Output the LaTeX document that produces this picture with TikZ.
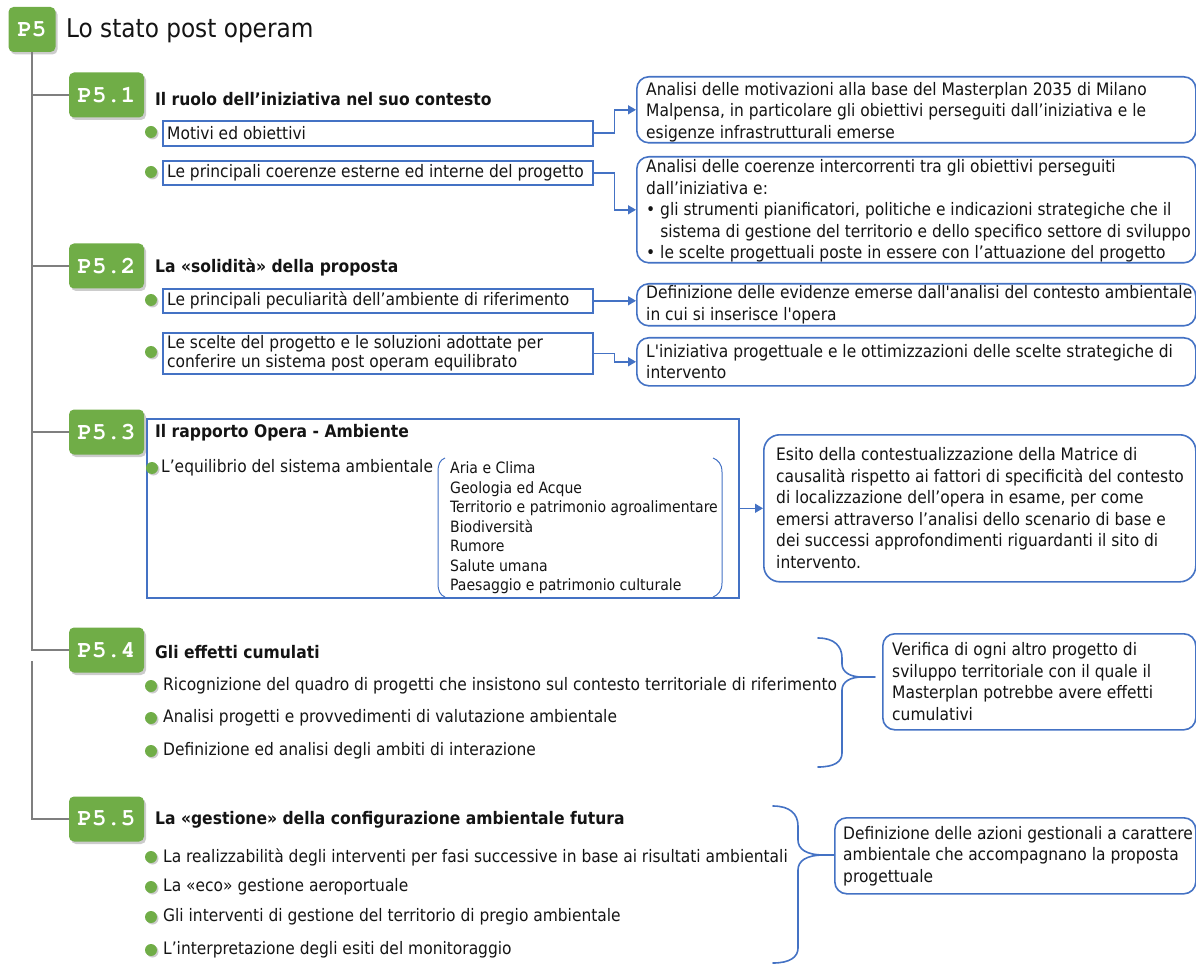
\documentclass[tikz,border=0pt]{standalone}
\usepackage{fontspec}
\setmainfont{DejaVu Sans Condensed}[BoldFont={DejaVu Sans Condensed Bold}, Ligatures=TeXOff]
\usetikzlibrary{shadows,arrows.meta,calc}

\definecolor{pgreen}{HTML}{70AD47}
\definecolor{pblue}{HTML}{4472C4}
\definecolor{tgray}{HTML}{7F7F7F}
\definecolor{ink}{HTML}{141414}

\newcommand\bodyfs{\fontsize{17.2}{21.5}\selectfont}
\newcommand\itemfs{\fontsize{17.2}{19.5}\selectfont}
\newcommand\listfs{\fontsize{15.6}{19.5}\selectfont}
\newcommand\headfs{\fontsize{17.3}{20}\selectfont\bfseries}
\newcommand\titlefs{\fontsize{25.8}{30}\selectfont}
\newcommand\badgefs{\fontencoding{T1}\fontfamily{pcr}\fontseries{b}\fontsize{24}{26}\selectfont}

\tikzset{
  badge/.style={fill=pgreen, rounded corners=5pt, text=white, font=\badgefs,
    minimum width=75pt, minimum height=45pt, inner sep=0pt,
    drop shadow={shadow xshift=2pt, shadow yshift=-2.5pt, fill=black!40}},
  tree/.style={draw=tgray, line width=1.3pt},
  dot/.style={circle, fill=pgreen, minimum size=12pt, inner sep=0pt,
    drop shadow={shadow xshift=1.5pt, shadow yshift=-1.5pt, fill=black!40}},
  head/.style={anchor=west, inner sep=0pt, font=\headfs, text=ink},
  itemtext/.style={anchor=west, inner sep=0pt, font=\itemfs, text=ink, align=left},
  itembox/.style={draw=pblue, line width=1.6pt, fill=white, anchor=north west,
    minimum width=430pt, inner sep=0pt},
  rbox/.style={draw=pblue, line width=1.6pt, fill=white, rounded corners=12pt,
    anchor=north west, inner sep=0pt},
  rtext/.style={anchor=west, inner sep=0pt, font=\bodyfs, text=ink, align=left},
  conn/.style={draw=pblue, line width=1.6pt, -{Triangle[length=8pt,width=9pt]}},
  brace/.style={draw=pblue, line width=1.6pt, line cap=round},
  paren/.style={draw=pblue, line width=1pt},
}

\begin{document}
\begin{tikzpicture}[x=1pt,y=-1pt]
\useasboundingbox (0,0) rectangle (1196,965);

% ---------- section P5.3 frame (drawn under its badge)
\node[draw=pblue, line width=1.6pt, anchor=north west, inner sep=0pt,
      minimum width=592pt, minimum height=179pt] (p53box) at (146,418) {};

% ---------- main title and section badges
\node[badge, minimum width=47pt] (p5) at (32,29.5) {P5};
\node[anchor=west, inner sep=0pt, font=\titlefs, text=ink] (title) at (66,31) {Lo stato post operam};

\node[badge] (p51) at (106.5,95) {P5.1};
\node[badge] (p52) at (106.5,266) {P5.2};
\node[badge] (p53) at (106.5,432) {P5.3};
\node[badge] (p54) at (106.5,650) {P5.4};
\node[badge] (p55) at (106.5,819) {P5.5};

% ---------- tree
\draw[tree] (p5.south) |- (p51.west);
\draw[tree] (p5.south) |- (p52.west);
\draw[tree] (p5.south) |- (p53.west);
\draw[tree] (p5.south) |- (p54.west);
\coordinate (t55) at (32,661);
\draw[tree] (t55) |- (p55.west);

% ---------- headings
\node[head] (h51) at (155,99) {Il ruolo dell’iniziativa nel suo contesto};
\node[head] (h52) at (155,267) {La «solidità» della proposta};
\node[head] (h53) at (155,433) {Il rapporto Opera - Ambiente};
\node[head] (h54) at (155,652) {Gli effetti cumulati};
\node[head] (h55) at (155,820) {La «gestione» della configurazione ambientale futura};

% ---------- P5.1 items
\node[itembox, minimum height=25pt] (i1) at (162,120) {};
\node[itemtext] (ti1) at ($(i1.west)+(5,0)$) {Motivi ed obiettivi};
\node[itembox, minimum height=24pt] (i2) at (162,160) {};
\node[itemtext] (ti2) at ($(i2.west)+(5,0)$) {Le principali coerenze esterne ed interne del progetto};
\node[dot] (d1) at (151,132) {};
\node[dot] (d2) at (151,172) {};

% ---------- P5.2 items
\node[itembox, minimum height=24pt] (i3) at (162,288) {};
\node[itemtext] (ti3) at ($(i3.west)+(5,0)$) {Le principali peculiarità dell’ambiente di riferimento};
\node[itembox, minimum height=41pt] (i4) at (162,332) {};
\node[itemtext] (ti4) at ($(i4.west)+(5,0)$) {Le scelte del progetto e le soluzioni adottate per\\conferire un sistema post operam equilibrato};
\node[dot] (d3) at (151,300) {};
\node[dot] (d4) at (151,352) {};

% ---------- P5.3 content
\node[dot] (d5) at (152,468) {};
\node[itemtext] (ti5) at (161,468) {L’equilibrio del sistema ambientale};
\draw[paren] (445,458) .. controls (440,460) and (438,464) .. (438,472) -- (438,583)
  .. controls (438,591) and (440,595) .. (445,597);
\draw[paren] (713,458) .. controls (718,460) and (722,464) .. (722,472) -- (722,583)
  .. controls (722,591) and (718,595) .. (713,597);
\node[anchor=west, inner sep=0pt, font=\listfs, text=ink, align=left] (list) at (450,528)
  {Aria e Clima\\Geologia ed Acque\\Territorio e patrimonio agroalimentare\\Biodiversità\\Rumore\\Salute umana\\Paesaggio e patrimonio culturale};

% ---------- P5.4 items
\node[dot] (d6) at (151,686) {};
\node[itemtext] (ti6) at (163,686) {Ricognizione del quadro di progetti che insistono sul contesto territoriale di riferimento};
\node[dot] (d7) at (151,718) {};
\node[itemtext] (ti7) at (163,718) {Analisi progetti e provvedimenti di valutazione ambientale};
\node[dot] (d8) at (151,751) {};
\node[itemtext] (ti8) at (163,751) {Definizione ed analisi degli ambiti di interazione};

% ---------- P5.5 items
\node[dot] (d9) at (151,857) {};
\node[itemtext] (ti9) at (163,857) {La realizzabilità degli interventi per fasi successive in base ai risultati ambientali};
\node[dot] (d10) at (151,887) {};
\node[itemtext] (ti10) at (163,887) {La «eco» gestione aeroportuale};
\node[dot] (d11) at (151,917) {};
\node[itemtext] (ti11) at (163,917) {Gli interventi di gestione del territorio di pregio ambientale};
\node[dot] (d12) at (151,950) {};
\node[itemtext] (ti12) at (163,950) {L’interpretazione degli esiti del monitoraggio};

% ---------- description boxes
\node[rbox, minimum width=559pt, minimum height=66pt] (r1) at (636,76) {};
\node[rtext] (tr1) at ($(r1.west)+(10,2)$) {Analisi delle motivazioni alla base del Masterplan 2035 di Milano\\Malpensa, in particolare gli obiettivi perseguiti dall’iniziativa e le\\esigenze infrastrutturali emerse};

\node[rbox, minimum width=559pt, minimum height=106pt] (r2) at (636,156) {};
\node[rtext] (tr2) at ($(r2.west)+(10,1)$) {Analisi delle coerenze intercorrenti tra gli obiettivi perseguiti\\dall’iniziativa e:\\• gli strumenti pianificatori, politiche e indicazioni strategiche che il\\\phantom{• }sistema di gestione del territorio e dello specifico settore di sviluppo\\• le scelte progettuali poste in essere con l’attuazione del progetto};

\node[rbox, minimum width=559pt, minimum height=42pt] (r3) at (636,283) {};
\node[rtext] (tr3) at ($(r3.west)+(10,0)$) {Definizione delle evidenze emerse dall'analisi del contesto ambientale\\in cui si inserisce l'opera};

\node[rbox, minimum width=559pt, minimum height=48pt] (r4) at (636,337) {};
\node[rtext] (tr4) at ($(r4.west)+(10,0)$) {L'iniziativa progettuale e le ottimizzazioni delle scelte strategiche di\\intervento};

\node[rbox, rounded corners=16pt, minimum width=432pt, minimum height=147pt] (r5) at (763,434) {};
\node[rtext] (tr5) at ($(r5.west)+(13,0)$) {Esito della contestualizzazione della Matrice di\\causalità rispetto ai fattori di specificità del contesto\\di localizzazione dell’opera in esame, per come\\emersi attraverso l’analisi dello scenario di base e\\dei successi approfondimenti riguardanti il sito di\\intervento.};

\node[rbox, minimum width=313pt, minimum height=96pt] (r6) at (882,633) {};
\node[rtext] (tr6) at ($(r6.west)+(10,0)$) {Verifica di ogni altro progetto di\\sviluppo territoriale con il quale il\\Masterplan potrebbe avere effetti\\cumulativi};

\node[rbox, minimum width=361pt, minimum height=76pt] (r7) at (834,817) {};
\node[rtext] (tr7) at ($(r7.west)+(9,0)$) {Definizione delle azioni gestionali a carattere\\ambientale che accompagnano la proposta\\progettuale};

% ---------- connectors
\draw[conn] (i1.east) -- ++(21,0) |- (r1.west);
\draw[conn] (i2.east) -- ++(21,0) |- (r2.west);
\draw[conn] (i3.east) -- (i3.east -| r3.west);
\draw[conn] (i4.east) -- ++(21,0) |- (r4.west);
\draw[conn] (p53box.east) -- (r5.west);

% ---------- braces
\coordinate (tip4) at (862,677);
\draw[brace] (818,638) .. controls (834,638) and (842,646) .. (842,658) -- (842,664)
  .. controls (842,672) and (850,677) .. (tip4)
  .. controls (850,677) and (842,682) .. (842,690) -- (842,753)
  .. controls (842,762) and (834,767) .. (818,767);
\draw[brace] (tip4) -- ($(tip4 -| r6.west)+(-7,0)$);

\coordinate (tip5) at (824,855);
\draw[brace] (773,806) .. controls (790,806) and (798,814) .. (798,826) -- (798,840)
  .. controls (798,849) and (806,855) .. (tip5)
  .. controls (806,855) and (798,861) .. (798,870) -- (798,948)
  .. controls (798,957) and (790,963) .. (773,963);
\draw[brace] (tip5) -- (tip5 -| r7.west);

\end{tikzpicture}
\end{document}
